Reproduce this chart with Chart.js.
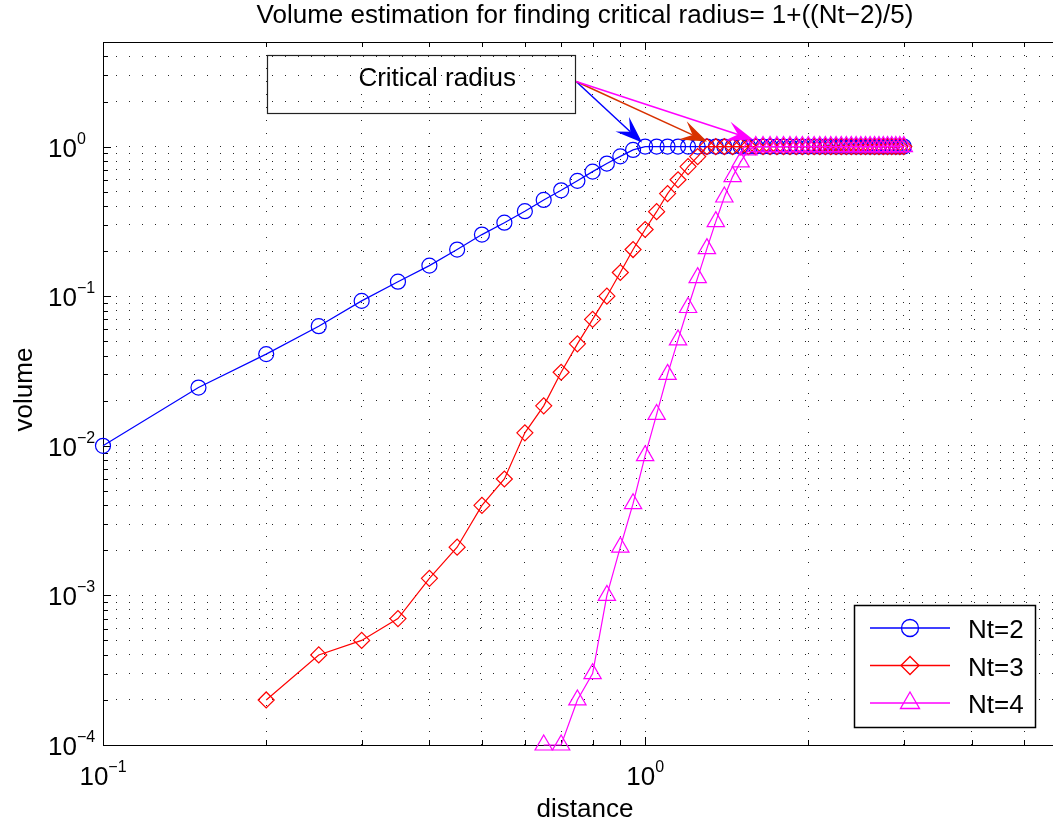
<!DOCTYPE html>
<html>
<head>
<meta charset="utf-8">
<script src="https://cdn.jsdelivr.net/npm/chart.js@4.4.0/dist/chart.umd.min.js"></script>
<style>
  html, body { margin: 0; padding: 0; background: #fff; overflow: hidden; }
  #wrap { width: 1053px; height: 824px; overflow: hidden; }
</style>
</head>
<body>
<div id="wrap"><canvas id="volChart" width="1100" height="824"></canvas></div>
<script>
// distance values (x), step 0.05
const distance = [0.1, 0.15, 0.2, 0.25, 0.3, 0.35, 0.4, 0.45, 0.5, 0.55,
  0.6, 0.65, 0.7, 0.75, 0.8, 0.85, 0.9, 0.95, 1.0, 1.05,
  1.1, 1.15, 1.2, 1.25, 1.3, 1.35, 1.4, 1.45, 1.5, 1.55,
  1.6, 1.65, 1.7, 1.75, 1.8, 1.85, 1.9, 1.95, 2.0, 2.05,
  2.1, 2.15, 2.2, 2.25, 2.3, 2.35, 2.4, 2.45, 2.5, 2.55,
  2.6, 2.65, 2.7, 2.75, 2.8, 2.85, 2.9, 2.95, 3.0];

// volume, null = no point
const volNt2 = [0.01, 0.0245, 0.041, 0.063, 0.093, 0.125, 0.16, 0.205, 0.258, 0.31,
  0.37, 0.44, 0.51, 0.59, 0.68, 0.77, 0.86, 0.95, 1, 1,
  1, 1, 1, 1, 1, 1, 1, 1, 1, 1,
  1, 1, 1, 1, 1, 1, 1, 1, 1, 1,
  1, 1, 1, 1, 1, 1, 1, 1, 1, 1,
  1, 1, 1, 1, 1, 1, 1, 1, 1];

const volNt3 = [null, null, 2e-4, 4e-4, 5e-4, 7e-4, 1.3e-3, 2.1e-3, 4e-3, 6e-3,
  1.22e-2, 1.85e-2, 3.1e-2, 4.8e-2, 7e-2, 0.1, 0.144, 0.205, 0.279, 0.367,
  0.485, 0.6, 0.735, 0.857, 1, 1, 1, 1, 1, 1,
  1, 1, 1, 1, 1, 1, 1, 1, 1, 1,
  1, 1, 1, 1, 1, 1, 1, 1, 1, 1,
  1, 1, 1, 1, 1, 1, 1, 1, 1];

const volNt4 = [null, null, null, null, null, null, null, null, null, null,
  null, 1e-4, 1e-4, 2e-4, 3e-4, 1e-3, 2.1e-3, 4.1e-3, 8.6e-3, 1.62e-2,
  3.0e-2, 5.1e-2, 8.4e-2, 0.133, 0.208, 0.315, 0.46, 0.63, 0.79, 0.95,
  1, 1, 1, 1, 1, 1, 1, 1, 1, 1,
  1, 1, 1, 1, 1, 1, 1, 1, 1, 1,
  1, 1, 1, 1, 1, 1, 1, 1, 1];

const seriesLabels = ['Nt=2', 'Nt=3', 'Nt=4'];

const FONT = '"Liberation Sans", Arial, Helvetica, sans-serif';

function toPoints(vals) {
  return distance.map((d, i) => ({ x: d, y: vals[i] })).filter(p => p.y !== null);
}

function decadeTicks(lo, hi) {
  const out = [];
  for (let e = Math.floor(Math.log10(lo)); e <= Math.ceil(Math.log10(hi)); e++) {
    for (let m = 1; m <= 9; m++) {
      const v = m * Math.pow(10, e);
      if (v >= lo * 0.999 && v <= hi * 1.001) out.push({ value: v, major: m === 1, exp: e });
    }
  }
  return out;
}

function drawMarker(ctx, style, x, y, r) {
  ctx.beginPath();
  if (style === 'circle') {
    ctx.arc(x, y, r, 0, Math.PI * 2);
  } else if (style === 'rectRot') {
    ctx.moveTo(x - r, y); ctx.lineTo(x, y - r); ctx.lineTo(x + r, y); ctx.lineTo(x, y + r);
    ctx.closePath();
  } else {
    const s = r * Math.sin(Math.PI / 3);
    ctx.moveTo(x, y - r); ctx.lineTo(x + s, y + r / 2); ctx.lineTo(x - s, y + r / 2);
    ctx.closePath();
  }
  ctx.stroke();
}

function drawArrow(ctx, x0, y0, x1, y1, color) {
  const a = Math.atan2(y1 - y0, x1 - x0);
  const c = Math.cos(a), s = Math.sin(a);
  const L = 27, N = 16, W = 10;
  ctx.save();
  ctx.strokeStyle = color;
  ctx.fillStyle = color;
  ctx.lineWidth = 1.5;
  ctx.beginPath();
  ctx.moveTo(x0, y0);
  ctx.lineTo(x1 - N * c, y1 - N * s);
  ctx.stroke();
  ctx.beginPath();
  ctx.moveTo(x1, y1);
  ctx.lineTo(x1 - L * c + W * s, y1 - L * s - W * c);
  ctx.lineTo(x1 - N * c, y1 - N * s);
  ctx.lineTo(x1 - L * c - W * s, y1 - L * s + W * c);
  ctx.closePath();
  ctx.fill();
  ctx.restore();
}

function expText(e) {
  return e < 0 ? '\u2212' + Math.abs(e) : String(e);
}

// box, inward ticks, tick labels, axis labels, title
const axesPlugin = {
  id: 'axesPlugin',
  beforeDatasetsDraw(chart) {
    const { ctx, chartArea: a, scales } = chart;
    ctx.save();
    ctx.strokeStyle = '#000';
    ctx.lineWidth = 1;
    ctx.strokeRect(Math.round(a.left) + 0.5, Math.round(a.top) + 0.5,
      Math.round(a.right - a.left), Math.round(a.bottom - a.top));
    ctx.beginPath();
    scales.x.ticks.forEach(t => {
      const px = Math.round(scales.x.getPixelForValue(t.value)) + 0.5;
      const len = t.major ? 8 : 5;
      ctx.moveTo(px, a.bottom); ctx.lineTo(px, a.bottom - len);
      ctx.moveTo(px, a.top); ctx.lineTo(px, a.top + len);
    });
    scales.y.ticks.forEach(t => {
      const py = Math.round(scales.y.getPixelForValue(t.value)) + 0.5;
      const len = t.major ? 8 : 5;
      ctx.moveTo(a.left, py); ctx.lineTo(a.left + len, py);
      ctx.moveTo(a.right, py); ctx.lineTo(a.right - len, py);
    });
    ctx.stroke();

    ctx.fillStyle = '#000';
    ctx.textBaseline = 'alphabetic';
    ctx.textAlign = 'left';
    const big = '26px ' + FONT, small = '16px ' + FONT;
    scales.x.ticks.filter(t => t.major).forEach(t => {
      const px = scales.x.getPixelForValue(t.value);
      ctx.font = big; const w1 = ctx.measureText('10').width;
      ctx.font = small; const w2 = ctx.measureText(expText(t.exp)).width;
      const x0 = px - (w1 + w2) / 2;
      ctx.font = big; ctx.fillText('10', x0, 785);
      ctx.font = small; ctx.fillText(expText(t.exp), x0 + w1, 772);
    });
    scales.y.ticks.filter(t => t.major).forEach(t => {
      const py = scales.y.getPixelForValue(t.value);
      ctx.font = big; const w1 = ctx.measureText('10').width;
      ctx.fillText('10', 48, py + 10);
      ctx.font = small; ctx.fillText(expText(t.exp), 48 + w1, py - 3);
    });

    const cx = (a.left + a.right) / 2;
    ctx.font = big;
    ctx.textAlign = 'center';
    ctx.fillText('Volume estimation for finding critical radius= 1+((Nt\u22122)/5)', cx, 23);
    ctx.fillText('distance', cx, 817);
    ctx.save();
    ctx.translate(32, (a.top + a.bottom) / 2 - 4);
    ctx.rotate(-Math.PI / 2);
    ctx.fillText('volume', 0, 0);
    ctx.restore();
    ctx.restore();
  },
  afterDraw(chart) {
    const { ctx, scales } = chart;
    const X = v => scales.x.getPixelForValue(v);
    const Y = v => scales.y.getPixelForValue(v);
    ctx.save();
    // annotation text box (data coordinates)
    const bx0 = X(0.201), bx1 = X(0.743), by0 = Y(4.12), by1 = Y(1.69);
    ctx.strokeStyle = '#222';
    ctx.lineWidth = 1.2;
    ctx.strokeRect(Math.round(bx0) + 0.5, Math.round(by0) + 0.5, Math.round(bx1 - bx0), Math.round(by1 - by0));
    ctx.fillStyle = '#000';
    ctx.font = '26px ' + FONT;
    ctx.textAlign = 'center';
    ctx.fillText('Critical radius', X(0.4134), Y(2.557));
    const sx = X(0.746), sy = Y(2.72);
    drawArrow(ctx, sx, sy, X(0.987), Y(1.063), '#0000ff');
    drawArrow(ctx, sx, sy, X(1.301), Y(1.08), '#d83100');
    drawArrow(ctx, sx, sy, X(1.582), Y(1.114), '#ff00ff');

    // legend
    const lx = 854, ly = 605, lw = 181, lh = 122;
    ctx.fillStyle = '#fff';
    ctx.fillRect(lx, ly, lw, lh);
    ctx.strokeStyle = '#000';
    ctx.lineWidth = 1.5;
    ctx.strokeRect(lx + 0.5, ly + 0.5, lw, lh);
    chart.data.datasets.forEach((ds, i) => {
      const yy = 628 + i * 37.5;
      ctx.strokeStyle = ds.borderColor;
      ctx.lineWidth = 1.3;
      ctx.beginPath();
      ctx.moveTo(870, yy); ctx.lineTo(950, yy);
      ctx.stroke();
      drawMarker(ctx, ds.pointStyle, 910, yy, ds.pointRadius + 1);
      ctx.fillStyle = '#000';
      ctx.textAlign = 'left';
      ctx.fillText(ds.label, 968, yy + 10);
    });
    ctx.restore();
  }
};

const gridStyle = { color: 'rgba(0,0,0,0.85)', lineWidth: 1, drawTicks: false };

new Chart(document.getElementById('volChart').getContext('2d'), {
  type: 'line',
  data: {
    datasets: [
      { label: seriesLabels[0], data: toPoints(volNt2), borderColor: '#0000ff', borderWidth: 1.2,
        pointStyle: 'circle', pointRadius: 7.5, pointBorderWidth: 1.2, pointBorderColor: '#0000ff',
        pointBackgroundColor: 'rgba(0,0,0,0)', tension: 0, clip: false, order: 3 },
      { label: seriesLabels[1], data: toPoints(volNt3), borderColor: '#ff0000', borderWidth: 1.2,
        pointStyle: 'rectRot', pointRadius: 8, pointBorderWidth: 1.2, pointBorderColor: '#ff0000',
        pointBackgroundColor: 'rgba(0,0,0,0)', tension: 0, clip: false, order: 2 },
      { label: seriesLabels[2], data: toPoints(volNt4), borderColor: '#ff00ff', borderWidth: 1.2,
        pointStyle: 'triangle', pointRadius: 10, pointBorderWidth: 1.2, pointBorderColor: '#ff00ff',
        pointBackgroundColor: 'rgba(0,0,0,0)', tension: 0, clip: false, order: 1 }
    ]
  },
  options: {
    responsive: false,
    animation: false,
    events: [],
    layout: { padding: { left: 103, top: 42, right: 33, bottom: 79 } },
    plugins: { legend: { display: false }, tooltip: { enabled: false }, title: { display: false } },
    scales: {
      x: {
        type: 'logarithmic', min: 0.1, max: 6,
        afterBuildTicks: s => { s.ticks = decadeTicks(0.1, 6); },
        ticks: { display: false },
        grid: gridStyle,
        border: { display: false, dash: [1, 12] }
      },
      y: {
        type: 'logarithmic', min: 1e-4, max: 5,
        afterBuildTicks: s => { s.ticks = decadeTicks(1e-4, 5); },
        ticks: { display: false },
        grid: gridStyle,
        border: { display: false, dash: [1, 12] }
      }
    }
  },
  plugins: [axesPlugin]
});
</script>
</body>
</html>
